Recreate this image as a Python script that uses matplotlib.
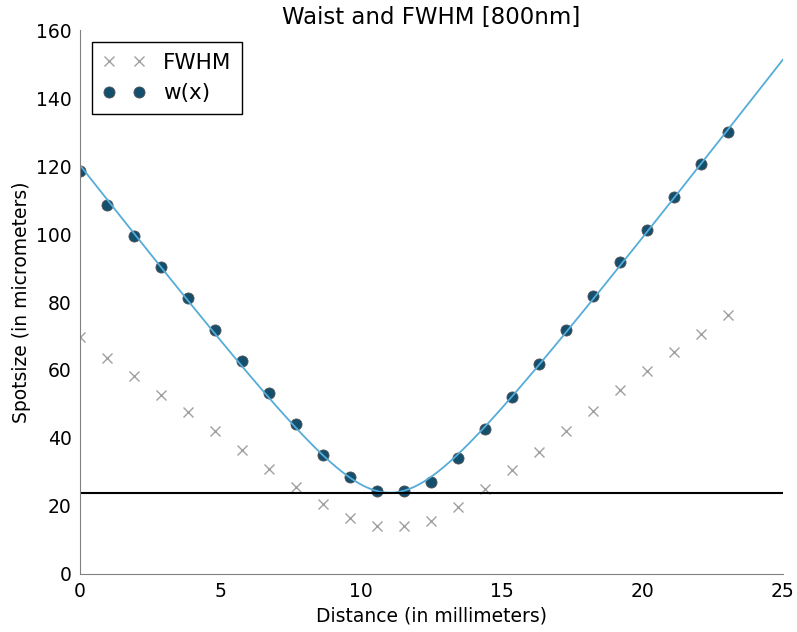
import numpy as np
import matplotlib.pyplot as plt

# Distance along the beam (mm) and measured spot sizes (micrometers)
distance = np.array([0.0, 0.96, 1.92, 2.88, 3.84, 4.80, 5.76, 6.72, 7.68, 8.64,
                     9.60, 10.56, 11.52, 12.48, 13.44, 14.40, 15.36, 16.32, 17.28,
                     18.24, 19.20, 20.16, 21.12, 22.08, 23.04])
waist = np.array([118.5, 108.6, 99.3, 90.2, 81.1, 71.8, 62.5, 53.2, 44.0, 35.1,
                  28.4, 24.5, 24.5, 27.0, 34.0, 42.6, 52.2, 61.8, 71.7, 81.8,
                  91.8, 101.3, 111.0, 120.6, 129.9])
fwhm = np.array([69.7, 63.5, 58.2, 52.6, 47.6, 42.2, 36.5, 30.9, 25.6, 20.6,
                 16.5, 14.2, 14.2, 15.6, 19.7, 25.0, 30.6, 35.9, 42.2, 47.9,
                 54.0, 59.7, 65.3, 70.6, 76.2])

# Gaussian beam fit: w(z)^2 is quadratic in z, weighted so residuals are in w
coef = np.polyfit(distance, waist ** 2, 2, w=1.0 / waist)
z_fit = np.linspace(0, 25, 300)
w_fit = np.sqrt(np.polyval(coef, z_fit))
w0 = w_fit.min()

fig = plt.figure(figsize=(7.97, 6.32), dpi=100)
ax = fig.add_axes([0.1004, 0.0918, 0.882, 0.8607])

ax.plot(distance, fwhm, 'x', color='#a0a0a0', markersize=7, mew=1, label='FWHM')
ax.plot(distance, waist, 'o', color='#154f6e', markeredgecolor='#555555',
        markeredgewidth=0.6, markersize=8, label='w(x)')
ax.plot(z_fit, w_fit, '-', color='#55acd9', lw=1.3)
ax.axhline(w0, color='black', lw=1.5)

ax.set_xlim(0, 25)
ax.set_ylim(0, 160)
ax.set_xticks([0, 5, 10, 15, 20, 25])
ax.set_yticks(np.arange(0, 161, 20))
ax.tick_params(length=0, labelsize=13.5)
ax.tick_params(axis='x', pad=6)
ax.tick_params(axis='y', pad=6)

for side in ['top', 'right']:
    ax.spines[side].set_visible(False)
for side in ['left', 'bottom']:
    ax.spines[side].set_color('#808080')

ax.set_xlabel('Distance (in millimeters)', fontsize=13.5, labelpad=4)
ax.set_ylabel('Spotsize (in micrometers)', fontsize=13.5, labelpad=3.5)
ax.set_title('Waist and FWHM [800nm]', fontsize=16.5, pad=4)

leg = ax.legend(loc='upper left', numpoints=2, fontsize=15.5, fancybox=False,
                framealpha=1, edgecolor='black', borderaxespad=0.55,
                borderpad=0.5, handletextpad=0.8, handlelength=2.0)
leg.get_frame().set_linewidth(1.0)

fig.savefig('out.png')
